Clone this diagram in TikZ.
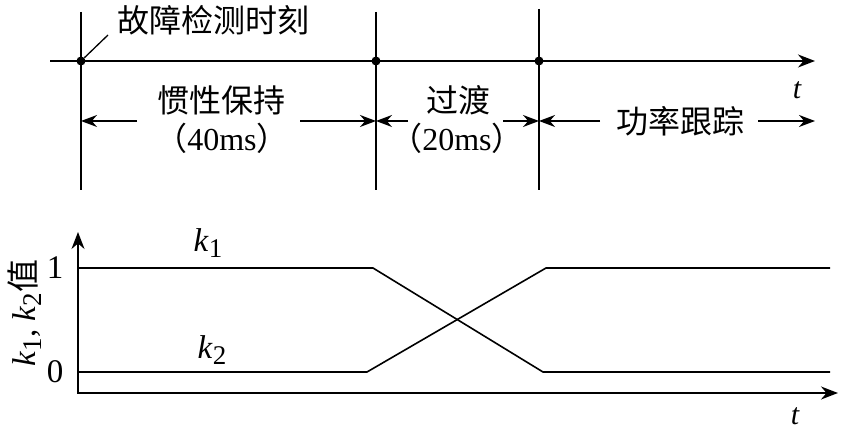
\documentclass[tikz,border=0pt]{standalone}
\usepackage{fontspec}
\setmainfont{Liberation Serif}
\newfontfamily\cjk{Noto Sans CJK SC}
\usetikzlibrary{arrows.meta}
\tikzset{
  axis/.style={line width=1.7pt,-{Stealth[length=17pt,width=13pt]}},
  spanarrow/.style={line width=1.7pt,-{Stealth[length=16pt,width=12pt]}},
  tickline/.style={line width=1.7pt},
  curve/.style={line width=1.6pt},
  dot/.style={circle,fill,inner sep=0pt,minimum size=9pt},
  lbl/.style={font=\fontsize{32}{36}\selectfont\cjk,inner sep=0pt},
  num/.style={font=\fontsize{33}{36}\selectfont,inner sep=0pt},
}
\newcommand{\kvar}[1]{\textit{k}\raisebox{-0.4ex}{\fontsize{27}{27}\selectfont #1}}
\begin{document}
\begin{tikzpicture}[x=1pt,y=-1pt]
  \useasboundingbox (0,0) rectangle (841,430);
  % time line
  \coordinate (tstart) at (50,61);
  \coordinate (tend) at (815,61);
  \draw[axis] (tstart) -- (tend);
  \node[num,font=\fontsize{30}{32}\selectfont\itshape] (ttop) at (797,90) {t};
  \foreach \n/\x/\y in {a/81/12,b/376/12,c/539/9}{
    \coordinate (\n-top) at (\x,\y);
    \coordinate (\n-bot) at (\x,190);
    \coordinate (\n-mid) at (\x,121);
    \draw[tickline] (\n-top) -- (\n-bot);
    \node[dot] (\n-dot) at (\x,61) {};
  }
  \node[lbl] (detect) at (213,20) {故障检测时刻};
  \coordinate (lead) at (108,35);
  \draw[tickline,line width=1.3pt] (a-dot) -- (lead);
  % stages
  \node[lbl] (hold) at (221,100) {惯性保持};
  \node[lbl] (holdms) at (222,138) {（\textrm{40ms}）};
  \node[lbl] (trans) at (458,100) {过渡};
  \node[lbl] (transms) at (457,138) {（\textrm{20ms}）};
  \node[lbl] (track) at (680,121) {功率跟踪};
  \coordinate (p1) at (137,121);
  \coordinate (p2) at (300,121);
  \coordinate (p3) at (408,121);
  \coordinate (p4) at (503,121);
  \coordinate (p5) at (600,121);
  \coordinate (p6) at (758,121);
  \coordinate (p7) at (815,121);
  \draw[spanarrow] (p1) -- (a-mid);
  \draw[spanarrow] (p2) -- (b-mid);
  \draw[spanarrow] (p3) -- (b-mid);
  \draw[spanarrow] (p4) -- (c-mid);
  \draw[spanarrow] (p5) -- (c-mid);
  \draw[spanarrow] (p6) -- (p7);
  % k1, k2 plot
  \coordinate (o) at (78,393);
  \coordinate (ytip) at (78,232);
  \coordinate (xtip) at (838,393);
  \draw[axis,{Stealth[length=17pt,width=13pt]}-{Stealth[length=17pt,width=13pt]}] (ytip) -- (o) -- (xtip);
  \node[num,font=\fontsize{30}{32}\selectfont\itshape] (tbot) at (795,416) {t};
  \node[num] (one) at (55,268) {1};
  \node[num] (zero) at (55,372) {0};
  \draw[curve] (78,268) -- (373,268) -- (543,372) -- (830,372);
  \draw[curve] (78,372) -- (367,372) -- (546,268) -- (830,268);
  \node[num] (klab1) at (208,243) {\kvar{1}};
  \node[num] (klab2) at (212,350) {\kvar{2}};
  \node[num,rotate=90] (ylab) at (25,313) {\kvar{1}, \kvar{2}{\cjk 值}};
\end{tikzpicture}
\end{document}
